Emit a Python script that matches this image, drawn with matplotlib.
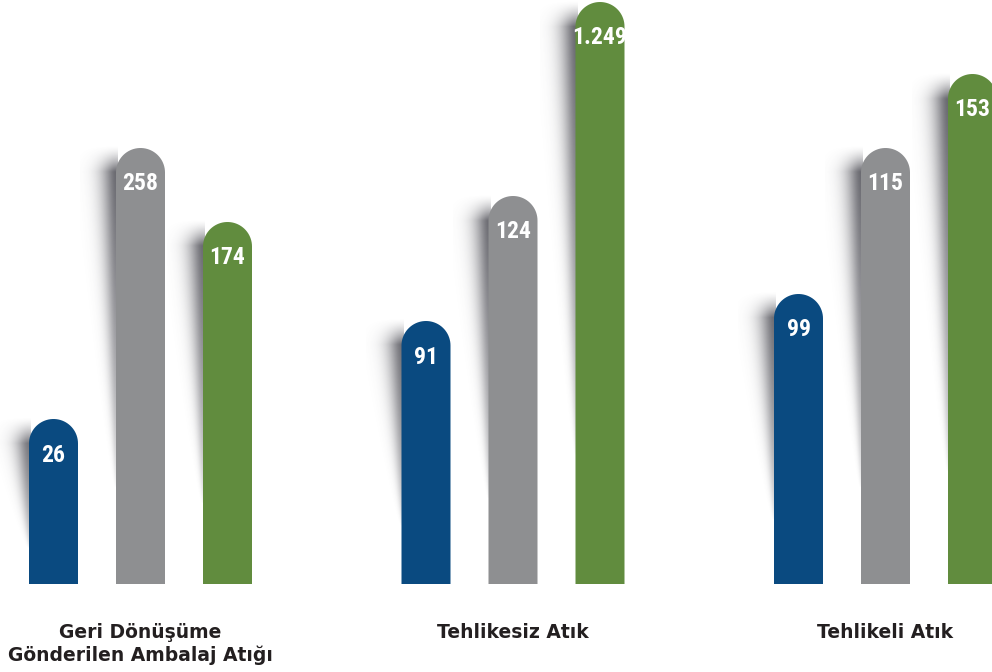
import numpy as np
import matplotlib.pyplot as plt
from matplotlib.path import Path
from matplotlib.patches import PathPatch

# data
categories = ["Geri Dönüşüme\nGönderilen Ambalaj Atığı", "Tehlikesiz Atık", "Tehlikeli Atık"]
values = [[26, 258, 174], [91, 124, 1249], [99, 115, 153]]
# drawn bar heights (the bars are not to scale with the values)
bar_height = [[165, 436, 362], [263, 388, 582], [290, 436, 510]]
colors = ["#0a4a80", "#8e8f91", "#618c3e"]

W, H = 992, 672
base = 88
bw = 49
step = 87
gstep = 372.5
g0 = 140.5

num_font = ["Roboto Condensed", "Liberation Sans Narrow", "Liberation Sans", "DejaVu Sans"]


def fmt(v):
    return f"{v:,}".replace(",", ".")


def rounded_bar(ax, x0, h, color):
    r = bw / 2
    top = base + h
    ang = np.linspace(0, np.pi, 40)
    arc = np.column_stack([x0 + r + r * np.cos(ang), top - r + r * np.sin(ang)])
    pts = np.vstack([[x0 + bw, base], [x0 + bw, top - r], arc, [x0, top - r], [x0, base], [x0, base]])
    codes = [Path.MOVETO] + [Path.LINETO] * (len(pts) - 2) + [Path.CLOSEPOLY]
    ax.add_patch(PathPatch(Path(pts, codes), facecolor=color, edgecolor="none", zorder=3))


def shadow(ax, x0, h):
    sw = 36
    y_start = base + h + 2
    y_end = base + 0.22 * h
    xs = np.linspace(x0 - sw, x0 + 2, 90)
    ys = np.linspace(y_end, y_start, 300)
    X, Y = np.meshgrid(xs, ys)
    t = (y_start - Y) / (y_start - y_end)
    w = 15 * (1 - t) ** 0.8 + 0.8
    d = np.clip(x0 - X, 0, None)
    a = 0.85 * np.exp(-(d / w) ** 1.6) * (1 - t) ** 0.6 * np.clip((y_start - Y) / 26, 0, 1) ** 1.5
    img = np.zeros(X.shape + (4,))
    img[..., 0] = 0.28
    img[..., 1] = 0.28
    img[..., 2] = 0.31
    img[..., 3] = a
    ax.imshow(img, extent=[x0 - sw, x0 + 2, y_end, y_start], origin="lower",
              interpolation="bilinear", aspect="auto", zorder=2)


fig = plt.figure(figsize=(W / 100, H / 100), dpi=100)
ax = fig.add_axes([0, 0, 1, 1])

for g, cat in enumerate(categories):
    gc = g0 + g * gstep
    for i in range(3):
        x0 = gc + (i - 1) * step - bw / 2
        h = bar_height[g][i]
        shadow(ax, x0, h)
        rounded_bar(ax, x0, h, colors[i])
        ax.text(x0 + bw / 2, base + h - 36, fmt(values[g][i]), ha="center", va="center",
                color="white", fontsize=17, fontweight="bold", fontstretch="condensed",
                family=num_font, zorder=4)
    ax.text(gc, 49, cat, ha="center", va="top", fontsize=13.5, fontweight="bold",
            color="#231f20", linespacing=1.25, family=["DejaVu Sans"])

ax.set_xlim(0, W)
ax.set_ylim(0, H)
ax.axis("off")
fig.savefig("out.png", dpi=100, facecolor="white")
